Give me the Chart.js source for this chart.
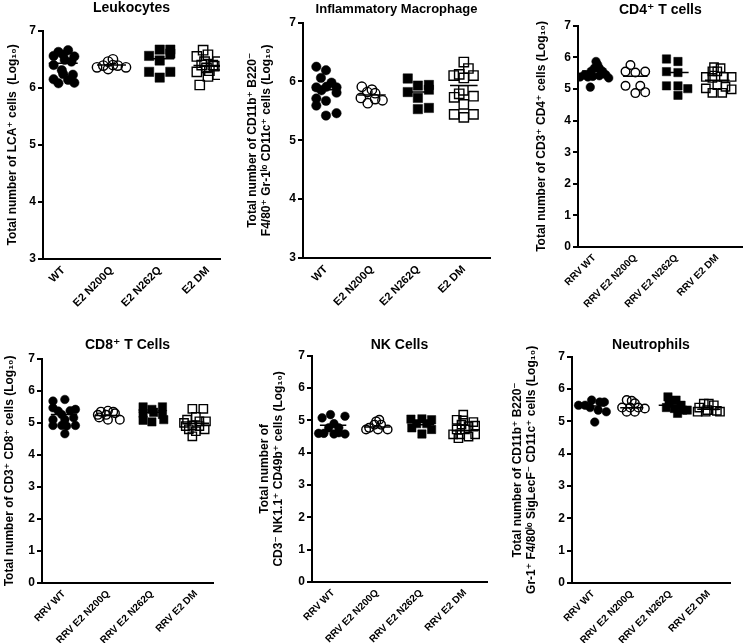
<!DOCTYPE html>
<html>
<head>
<meta charset="utf-8">
<script src="https://cdn.jsdelivr.net/npm/chart.js@4.4.1/dist/chart.umd.min.js"></script>
<style>
  body { margin: 0; background: #fff; width: 750px; height: 643px; position: relative; overflow: hidden; }
  canvas { position: absolute; }
</style>
</head>
<body>
<canvas id="leuko"></canvas>
<canvas id="macro"></canvas>
<canvas id="cd4"></canvas>
<canvas id="cd8"></canvas>
<canvas id="nk"></canvas>
<canvas id="neut"></canvas>
<script>
const catsE2 = ['WT', 'E2 N200Q', 'E2 N262Q', 'E2 DM'];
const catsRRV = ['RRV WT', 'RRV E2 N200Q', 'RRV E2 N262Q', 'RRV E2 DM'];

// values are Log10 cell counts, one inner list per group (WT, N200Q, N262Q, DM)
// "spread" = horizontal scatter of each dot inside its column
const leukoValues = [
  [6.63, 6.66, 6.56, 6.58, 6.55, 6.40, 6.49, 6.46, 6.31, 6.15, 6.24, 6.23, 6.14, 6.08, 6.09],
  [6.36, 6.39, 6.33, 6.40, 6.46, 6.50, 6.39, 6.36],
  [6.56, 6.67, 6.67, 6.60, 6.48, 6.28, 6.18, 6.28],
  [6.66, 6.55, 6.58, 6.46, 6.40, 6.40, 6.28, 6.35, 6.38, 6.23, 6.20, 6.05, 6.30, 6.46]
];
const leukoSpread = [
  [-0.1, 0.1, -0.2, 0.0, 0.23, -0.2, 0.03, 0.17, -0.03, -0.2, 0.0, 0.2, 0.1, -0.1, 0.23],
  [-0.3, -0.17, -0.07, 0.03, -0.07, 0.03, 0.13, 0.3],
  [-0.22, 0.0, 0.22, 0.22, 0.0, -0.22, 0.0, 0.22],
  [-0.1, -0.23, 0.0, 0.2, -0.13, 0.1, -0.23, -0.03, 0.13, 0.2, 0.0, -0.17, 0.03, -0.07]
];
const leukoMeans = [6.43, 6.40, 6.51, 6.39];

const macroValues = [
  [6.25, 6.19, 6.06, 5.90, 5.98, 5.85, 5.91, 5.90, 5.71, 5.67, 5.81, 5.59, 5.42, 5.46],
  [5.91, 5.82, 5.86, 5.80, 5.72, 5.63, 5.70, 5.68],
  [6.05, 5.93, 5.94, 5.86, 5.82, 5.72, 5.53, 5.55],
  [6.33, 6.22, 6.12, 6.10, 6.06, 6.10, 5.85, 5.73, 5.79, 5.75, 5.61, 5.44, 5.39, 5.44]
];
const macroSpread = [
  [-0.21, 0, -0.11, -0.21, 0.12, -0.1, 0.01, 0.23, -0.21, 0, 0.23, -0.21, 0, 0.23],
  [-0.22, -0.1, 0, 0.07, -0.24, -0.09, 0.07, 0.23],
  [-0.22, 0, 0.24, 0.24, -0.22, 0, 0, 0.24],
  [0, 0.1, -0.1, -0.22, 0, 0.21, -0.01, -0.21, -0.1, 0.21, 0, -0.21, 0, 0.21]
];
const macroMeans = [5.86, 5.77, 5.82, 5.93];

const cd4Values = [
  [5.87, 5.77, 5.66, 5.66, 5.56, 5.56, 5.45, 5.38, 5.40, 5.42, 5.45, 5.35, 5.38, 5.06],
  [5.76, 5.55, 5.52, 5.55, 5.10, 5.10, 4.87, 4.90],
  [5.95, 5.87, 5.55, 5.52, 5.10, 5.10, 5.01, 4.80],
  [5.69, 5.66, 5.56, 5.56, 5.38, 5.35, 5.38, 5.38, 5.02, 5.12, 5.07, 4.99, 4.88, 4.88]
];
const cd4Spread = [
  [0.04, 0.08, 0, 0.12, -0.08, 0.2, -0.24, -0.16, -0.04, 0.12, 0.28, 0.35, -0.35, -0.1],
  [-0.12, -0.24, 0, 0.24, -0.24, 0.12, 0, 0.24],
  [-0.24, 0.04, -0.24, 0.04, -0.24, 0.04, 0.28, 0.04],
  [-0.08, 0.08, -0.12, 0, -0.28, -0.12, 0.16, 0.35, -0.28, 0, 0.2, 0.35, -0.12, 0.12]
];
const cd4Means = [5.57, 5.40, 5.52, 5.28];

const cd8Values = [
  [5.68, 5.73, 5.47, 5.42, 5.38, 5.26, 5.10, 5.10, 5.16, 4.92, 4.92, 4.92, 4.90, 4.66, 5.37],
  [5.35, 5.38, 5.35, 5.25, 5.25, 5.30, 5.17, 5.10, 5.10],
  [5.50, 5.42, 5.50, 5.30, 5.33, 5.26, 5.08, 5.03, 5.10],
  [5.44, 5.44, 5.10, 5.19, 5.05, 5.05, 5.00, 4.92, 4.90, 4.80, 4.74, 4.80, 4.58, 4.90]
];
const cd8Spread = [
  [-0.25, 0.02, -0.25, 0.26, 0.14, -0.05, -0.25, 0.02, 0.22, -0.25, -0.05, 0.26, 0.06, 0.02, -0.13],
  [-0.16, 0, 0.12, -0.23, -0.04, 0.16, -0.2, 0, 0.27],
  [-0.2, 0, 0.24, -0.2, 0.04, 0.24, -0.2, 0.0, 0.27],
  [-0.08, 0.17, -0.2, 0, 0.08, 0.23, -0.27, -0.08, 0.08, -0.16, 0, 0.2, -0.08, -0.23]
];
const cd8Means = [5.26, 5.23, 5.33, 4.99];

const nkValues = [
  [5.18, 5.08, 5.13, 4.90, 4.77, 4.77, 4.60, 4.58, 4.58, 4.60, 4.62],
  [5.02, 4.97, 4.87, 4.77, 4.72, 4.72, 4.72, 4.87],
  [5.04, 5.05, 5.02, 4.90, 4.90, 4.77, 4.58, 4.72],
  [5.18, 5.02, 4.95, 4.87, 4.82, 4.72, 4.72, 4.84, 4.57, 4.50, 4.57, 4.57, 5.00, 4.45]
];
const nkSpread = [
  [-0.06, -0.25, 0.27, 0.02, -0.1, 0.13, -0.21, 0.02, 0.27, -0.33, 0.13],
  [0.05, -0.02, 0.09, -0.18, 0.02, 0.24, -0.25, -0.06],
  [-0.23, 0.02, 0.24, -0.1, 0.13, -0.21, 0.02, 0.24],
  [-0.04, -0.19, 0.19, -0.08, 0.08, -0.19, 0, 0.23, -0.11, 0.08, 0.23, -0.27, -0.04, -0.15]
];
const nkMeans = [4.85, 4.80, 4.87, 4.68];

const neutValues = [
  [5.50, 5.66, 5.60, 5.60, 5.50, 5.43, 5.35, 5.30, 4.98],
  [5.66, 5.64, 5.56, 5.43, 5.43, 5.43, 5.30, 5.30, 5.40],
  [5.76, 5.66, 5.56, 5.43, 5.50, 5.40, 5.35, 5.25, 5.35],
  [5.55, 5.55, 5.50, 5.43, 5.35, 5.33, 5.30, 5.30, 5.30]
];
const neutSpread = [
  [-0.21, -0.04, 0.17, 0.29, -0.38, -0.08, 0.13, 0.34, 0.04],
  [-0.13, 0, 0.08, -0.25, -0.04, 0.17, -0.13, 0.08, 0.34],
  [-0.06, 0.15, -0.03, -0.1, 0.28, 0.11, 0.44, 0.19, 0.32],
  [-0.13, 0, 0.13, -0.25, -0.04, 0.21, -0.29, -0.08, 0.29]
];
const neutMeans = [5.48, 5.42, 5.50, 5.38];

const FONT = "'Liberation Sans', Arial, 'DejaVu Sans', sans-serif";
Chart.defaults.font.family = FONT;
Chart.defaults.color = '#000';

// WT filled circle, N200Q open circle, N262Q filled square, DM open square
const groupStyle = [
  { shape: 'circle', filled: true },
  { shape: 'circle', filled: false },
  { shape: 'rect', filled: true },
  { shape: 'rect', filled: false }
];

function drawPanel(id, p) {
  const canvas = document.getElementById(id);
  canvas.width = p.box.w;
  canvas.height = p.box.h;
  canvas.style.left = p.box.x + 'px';
  canvas.style.top = p.box.y + 'px';

  const datasets = [];
  p.values.forEach((vals, g) => {
    const st = groupStyle[g];
    datasets.push({
      type: 'scatter',
      data: vals.map((v, i) => ({ x: g + p.spread[g][i], y: v })),
      pointStyle: st.shape,
      pointRadius: st.shape === 'rect' ? p.sq : p.dot,
      backgroundColor: st.filled ? '#000' : 'rgba(255,255,255,0)',
      borderColor: '#000',
      borderWidth: st.filled ? 0.5 : 1.4,
      order: 1
    });
    // mean line
    datasets.push({
      type: 'line',
      data: [{ x: g - 0.3, y: p.means[g] }, { x: g + 0.3, y: p.means[g] }],
      borderColor: '#000',
      borderWidth: 1.5,
      pointRadius: 0,
      order: 0
    });
  });

  new Chart(canvas, {
    data: { datasets: datasets },
    options: {
      responsive: false,
      animation: false,
      events: [],
      layout: { padding: { left: 0, right: p.padR, top: 0, bottom: 0 } },
      plugins: {
        legend: { display: false },
        tooltip: { enabled: false },
        title: {
          display: true,
          fullSize: false,
          text: p.title,
          color: '#000',
          font: { size: p.titleSize || 14, weight: 'bold' },
          padding: { top: p.titleTop, bottom: p.titleBottom }
        }
      },
      scales: {
        x: {
          type: 'linear',
          min: p.xmin,
          max: p.xmax,
          afterBuildTicks: s => { s.ticks = p.cats.map((c, i) => ({ value: i })); },
          afterFit: s => { s.height = p.xh; s.paddingLeft = 0; s.paddingRight = 0; },
          grid: { display: false, drawTicks: false },
          border: { display: true, color: '#000', width: 2 },
          ticks: {
            autoSkip: false,
            minRotation: 45,
            maxRotation: 45,
            padding: 5,
            color: '#000',
            font: { size: p.xFont, weight: 'bold' },
            callback: v => p.cats[v]
          }
        },
        y: {
          min: p.ymin,
          max: 7,
          afterFit: s => { s.width = p.yw; },
          grid: { drawOnChartArea: false, color: '#000', lineWidth: 2, tickLength: 5 },
          border: { display: true, color: '#000', width: 2 },
          ticks: { stepSize: 1, padding: 2, color: '#000', font: { size: 12, weight: 'bold' } },
          title: {
            display: true,
            text: p.yTitle,
            color: '#000',
            font: { size: 12, weight: 'bold' },
            padding: { top: p.yTitlePad, bottom: 0 }
          }
        }
      }
    }
  });
}

drawPanel('leuko', {
  box: { x: 0, y: 0, w: 235, h: 310 }, yw: 43, xh: 51, padR: 15,
  title: 'Leukocytes', titleTop: 0, titleBottom: 14,
  yTitle: 'Total number of LCA\u207A cells  (Log\u2081\u2080)', yTitlePad: 5,
  cats: catsE2, xFont: 11, xmin: -0.42, xmax: 3.25, ymin: 3,
  values: leukoValues, spread: leukoSpread, means: leukoMeans, dot: 4.7, sq: 6.6
});

drawPanel('macro', {
  box: { x: 241, y: 0, w: 259, h: 310 }, yw: 62, xh: 52, padR: 10,
  title: 'Inflammatory Macrophage', titleSize: 13, titleTop: 2, titleBottom: 5,
  yTitle: ['Total number of CD11b\u207A B220\u207B', 'F4/80\u207A Gr-1\u02E1\u1D52 CD11c\u207A cells (Log\u2081\u2080)'], yTitlePad: 4,
  cats: catsE2, xFont: 11, xmin: -0.5, xmax: 3.57, ymin: 3,
  values: macroValues, spread: macroSpread, means: macroMeans, dot: 4.7, sq: 6.6
});

drawPanel('cd4', {
  box: { x: 529, y: 0, w: 221, h: 310 }, yw: 49, xh: 63, padR: 2,
  title: 'CD4\u207A T cells', titleTop: 2, titleBottom: 7,
  yTitle: 'Total number of CD3\u207A CD4\u207A cells (Log\u2081\u2080)', yTitlePad: 5,
  cats: catsRRV, xFont: 10, xmin: -0.4, xmax: 3.62, ymin: 0,
  values: cd4Values, spread: cd4Spread, means: cd4Means, dot: 4.3, sq: 5.9
});

drawPanel('cd8', {
  box: { x: 0, y: 320, w: 235, h: 323 }, yw: 42, xh: 60, padR: 22,
  title: 'CD8\u207A T Cells', titleTop: 17, titleBottom: 5,
  yTitle: 'Total number of CD3\u207A CD8\u207A cells (Log\u2081\u2080)', yTitlePad: 2,
  cats: catsRRV, xFont: 10, xmin: -0.5, xmax: 3.39, ymin: 0,
  values: cd8Values, spread: cd8Spread, means: cd8Means, dot: 4.3, sq: 5.9
});

drawPanel('nk', {
  box: { x: 253, y: 320, w: 247, h: 323 }, yw: 59, xh: 61, padR: 13,
  title: 'NK Cells', titleTop: 17, titleBottom: 2,
  yTitle: ['Total number of', 'CD3\u207B NK1.1\u207A CD49b\u207A cells (Log\u2081\u2080)'], yTitlePad: 4,
  cats: catsRRV, xFont: 10, xmin: -0.48, xmax: 3.5, ymin: 0,
  values: nkValues, spread: nkSpread, means: nkMeans, dot: 4.3, sq: 5.9
});

drawPanel('neut', {
  box: { x: 506, y: 320, w: 244, h: 323 }, yw: 66, xh: 60, padR: 20,
  title: 'Neutrophils', titleTop: 17, titleBottom: 3,
  yTitle: ['Total number of CD11b\u207A B220\u207B', 'Gr-1\u207A F4/80\u02E1\u1D52 SigLecF\u207B CD11c\u207A cells (Log\u2081\u2080)'], yTitlePad: 4,
  cats: catsRRV, xFont: 10, xmin: -0.55, xmax: 3.55, ymin: 0,
  values: neutValues, spread: neutSpread, means: neutMeans, dot: 4.3, sq: 5.9
});
</script>
</body>
</html>
